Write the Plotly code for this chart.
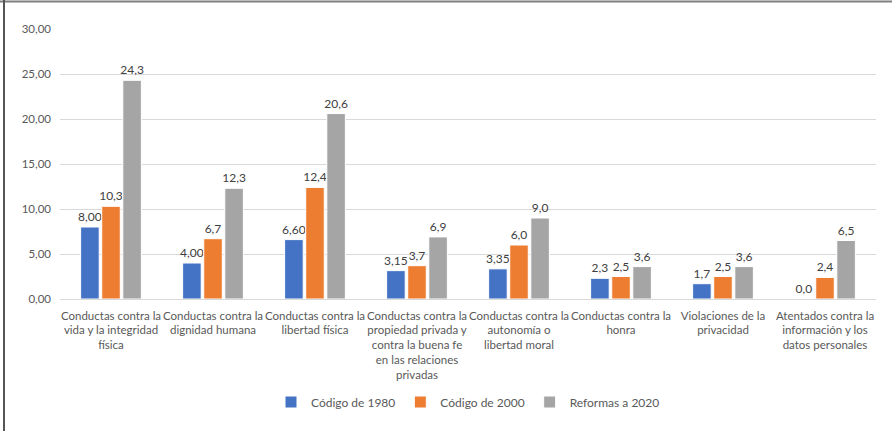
import plotly.graph_objects as go

categories = [
    "Conductas contra la<br>vida y la integridad<br>física",
    "Conductas contra la<br>dignidad humana",
    "Conductas contra la<br>libertad física",
    "Conductas contra la<br>propiedad privada y<br>contra la buena fe<br>en las relaciones<br>privadas",
    "Conductas contra la<br>autonomía o<br>libertad moral",
    "Conductas contra la<br>honra",
    "Violaciones de la<br>privacidad",
    "Atentados contra la<br>información y los<br>datos personales",
]

series_names = ["Código de 1980", "Código de 2000", "Reformas a 2020"]
codigo_1980 = [8.00, 4.00, 6.60, 3.15, 3.35, 2.3, 1.7, 0.0]
codigo_2000 = [10.3, 6.7, 12.4, 3.7, 6.0, 2.5, 2.5, 2.4]
reformas_2020 = [24.3, 12.3, 20.6, 6.9, 9.0, 3.6, 3.6, 6.5]
labels_1980 = ["8,00", "4,00", "6,60", "3,15", "3,35", "2,3", "1,7", "0,0"]
labels_2000 = ["10,3", "6,7", "12,4", "3,7", "6,0", "2,5", "2,5", "2,4"]
labels_2020 = ["24,3", "12,3", "20,6", "6,9", "9,0", "3,6", "3,6", "6,5"]
colors = ["#4472C4", "#ED7D31", "#A5A5A5"]

y_ticks = [0, 5, 10, 15, 20, 25, 30]

W, H = 892, 431
M_L, M_R, M_T, M_B = 60, 16, 29, 132
FONT = "Lato, Liberation Sans, sans-serif"
FS = 11.5

fig = go.Figure()
for name, vals, labels, color in zip(
    series_names,
    [codigo_1980, codigo_2000, reformas_2020],
    [labels_1980, labels_2000, labels_2020],
    colors,
):
    fig.add_trace(go.Bar(
        name=name,
        x=categories,
        y=vals,
        text=labels,
        textposition="outside",
        constraintext="none",
        textfont=dict(family=FONT, size=12, color="#404040"),
        marker=dict(color=color, line=dict(color="white", width=1)),
        cliponaxis=False,
    ))

# frame lines on the top and left edges of the page
plot_w = W - M_L - M_R
plot_h = H - M_T - M_B
def px_x(px):
    return (px - M_L) / plot_w
def px_y(py):
    return (H - M_B - py) / plot_h

shapes = [
    dict(type="line", xref="paper", yref="paper",
         x0=px_x(0), x1=px_x(W), y0=px_y(1.5), y1=px_y(1.5),
         line=dict(color="#7f7f7f", width=2)),
    dict(type="line", xref="paper", yref="paper",
         x0=px_x(4), x1=px_x(4), y0=px_y(0), y1=px_y(H),
         line=dict(color="#555555", width=2)),
]

fig.update_layout(
    width=W, height=H,
    margin=dict(l=M_L, r=M_R, t=M_T, b=M_B),
    paper_bgcolor="white",
    plot_bgcolor="white",
    separators=",.",
    barmode="group",
    bargap=0.38,
    bargroupgap=0.12,
    font=dict(family=FONT, size=FS, color="#595959"),
    showlegend=True,
    legend=dict(
        orientation="h",
        x=0.5, xanchor="center",
        y=px_y(402), yanchor="middle",
        font=dict(family=FONT, size=12, color="#595959"),
        itemwidth=30,
        tracegroupgap=0,
    ),
    xaxis=dict(
        showgrid=False,
        showline=False,
        ticks="",
        tickangle=0,
        ticklabelstandoff=8,
        tickfont=dict(family=FONT, size=FS, color="#595959"),
    ),
    yaxis=dict(
        range=[0, 30],
        tickvals=y_ticks,
        tickformat=".2f",
        showgrid=True,
        gridcolor="#D9D9D9",
        gridwidth=1,
        zeroline=True,
        zerolinecolor="#D9D9D9",
        zerolinewidth=1,
        showline=False,
        ticks="",
        ticklabelstandoff=8,
        tickfont=dict(family=FONT, size=FS, color="#595959"),
    ),
    shapes=shapes,
)

fig.write_html("out.html")
